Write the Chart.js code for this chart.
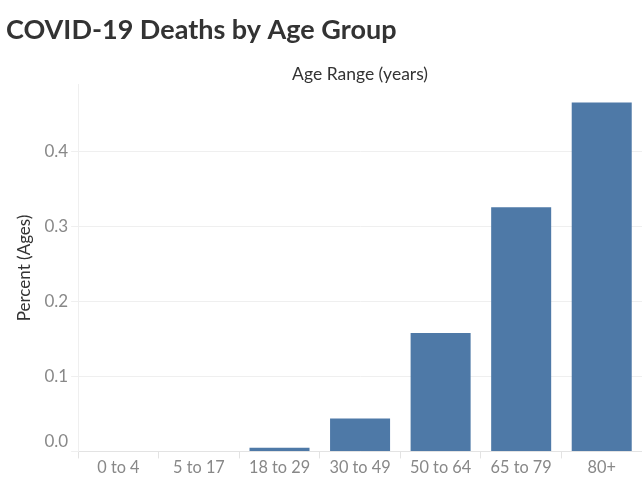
<!DOCTYPE html>
<html>
<head>
<meta charset="utf-8">
<script src="https://cdn.jsdelivr.net/npm/chart.js@4.4.1/dist/chart.umd.min.js"></script>
<style>
  html, body { margin: 0; padding: 0; background: #fff; }
  #wrap { width: 642px; height: 480px; }
</style>
</head>
<body>
<div id="wrap"><canvas id="deathsChart"></canvas></div>
<script>
// data
const ageGroups = ["0 to 4", "5 to 17", "18 to 29", "30 to 49", "50 to 64", "65 to 79", "80+"];
const deathShare = [0, 0, 0.005, 0.044, 0.158, 0.326, 0.466];
const yTickValues = [0, 0.1, 0.2, 0.3, 0.4];
const yTickLabels = ["0.0", "0.1", "0.2", "0.3", "0.4"];

const FONT = "Lato, 'Open Sans', sans-serif";

const ctx = document.getElementById("deathsChart").getContext("2d");
new Chart(ctx, {
  type: "bar",
  data: {
    labels: ageGroups,
    datasets: [{
      label: "Percent (Ages)",
      data: deathShare,
      backgroundColor: "#4e79a7",
      categoryPercentage: 1,
      barPercentage: 0.745
    }]
  },
  options: {
    responsive: true,
    maintainAspectRatio: false,
    animation: false,
    layout: { padding: { left: 6, right: 0, top: 0, bottom: 2 } },
    plugins: {
      legend: { display: false },
      tooltip: { enabled: false },
      title: {
        display: true,
        text: "COVID-19 Deaths by Age Group",
        align: "start",
        color: "#333333",
        font: { family: FONT, size: 27, weight: "bold" },
        padding: { top: 14, bottom: 17 }
      },
      subtitle: {
        display: true,
        text: "Age Range (years)",
        fullSize: false,
        color: "#333333",
        font: { family: FONT, size: 17.5 },
        padding: { top: 0, bottom: 0 }
      }
    },
    scales: {
      x: {
        grid: {
          offset: true,
          drawOnChartArea: false,
          color: "#e3e3e3",
          tickLength: 7
        },
        border: { color: "#e3e3e3" },
        ticks: {
          color: "#888888",
          font: { family: FONT, size: 16.3 },
          padding: 0,
          maxRotation: 0
        }
      },
      y: {
        min: 0,
        max: 0.49,
        afterBuildTicks: scale => {
          scale.ticks = yTickValues.map(v => ({ value: v }));
        },
        grid: {
          color: "#efefef",
          tickLength: 7
        },
        border: { color: "#efefef" },
        ticks: {
          color: "#888888",
          font: { family: FONT, size: 17 },
          padding: 3,
          // lowest label sits above the axis line, like the original
          callback: (v, i) => i === 0 ? [yTickLabels[i], ""] : yTickLabels[i]
        },
        title: {
          display: true,
          text: "Percent (Ages)",
          color: "#333333",
          font: { family: FONT, size: 17 },
          padding: { top: 8, bottom: 7 }
        }
      }
    }
  }
});
</script>
</body>
</html>
